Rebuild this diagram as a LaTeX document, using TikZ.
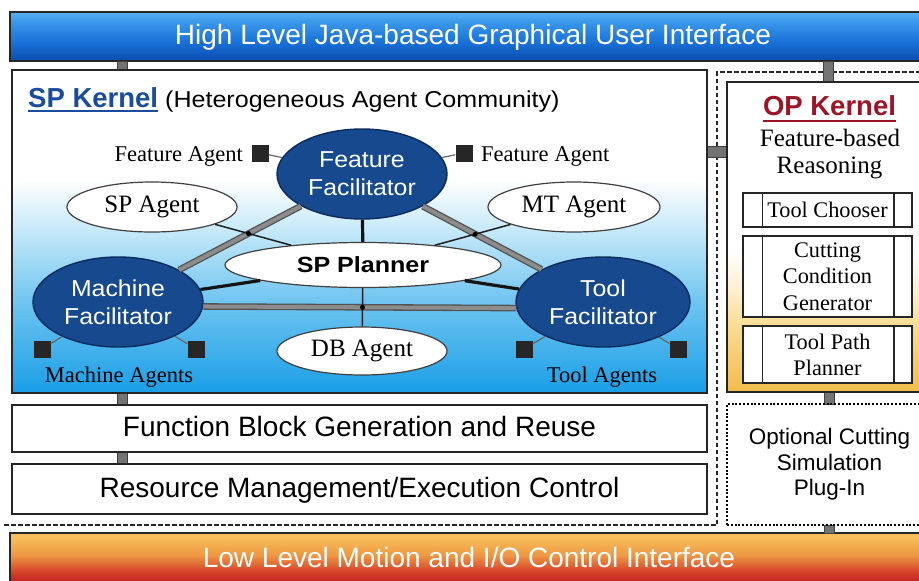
\documentclass[tikz,border=0pt]{standalone}
\usepackage{fontspec}
\usepackage{graphicx}
\setmainfont{Liberation Serif}
\newfontfamily\sansfam{Liberation Sans}
\usetikzlibrary{shapes.geometric,intersections}

\definecolor{navy}{HTML}{16498E}
\definecolor{navyD}{HTML}{0C2C5E}
\definecolor{spblue}{HTML}{1A4C9E}
\definecolor{opred}{HTML}{9C1426}
\definecolor{skyA}{HTML}{1A9EE6}
\definecolor{skyB}{HTML}{6EC4F0}
\definecolor{skyC}{HTML}{C4E8F8}
\definecolor{sunA}{HTML}{F3BC4C}
\definecolor{sunB}{HTML}{F9D98C}
\definecolor{sunC}{HTML}{FDF0D2}
\definecolor{guiA}{HTML}{0B4CB0}
\definecolor{guiB}{HTML}{1A72D8}
\definecolor{guiC}{HTML}{3A98EA}
\definecolor{guiD}{HTML}{5AB0F2}
\definecolor{lowA}{HTML}{C22222}
\definecolor{lowB}{HTML}{D84A2C}
\definecolor{lowC}{HTML}{EE9844}
\definecolor{lowD}{HTML}{F6B856}
\definecolor{lowE}{HTML}{F8C060}

% vertical shadings (the path maps onto 25bp..75bp)
\pgfdeclareverticalshading{spshade}{100bp}{color(0bp)=(skyA); color(25bp)=(skyA); color(39bp)=(skyB); color(50bp)=(skyC); color(58bp)=(white); color(100bp)=(white)}
\pgfdeclareverticalshading{opshade}{100bp}{color(0bp)=(sunA); color(25bp)=(sunA); color(35bp)=(sunB); color(41.5bp)=(sunC); color(48bp)=(white); color(100bp)=(white)}
\pgfdeclareverticalshading{guishade}{100bp}{color(0bp)=(guiA); color(25bp)=(guiA); color(45bp)=(guiB); color(65bp)=(guiC); color(75bp)=(guiD); color(100bp)=(guiD)}
\pgfdeclareverticalshading{lowshade}{100bp}{color(0bp)=(lowA); color(28.8bp)=(lowA); color(39.4bp)=(lowB); color(53.8bp)=(lowC); color(68bp)=(lowD); color(75bp)=(lowE); color(100bp)=(lowE)}

\newcommand\hstretch[2]{\scalebox{#1}[1]{#2}}

\begin{document}
\begin{tikzpicture}[x=1pt,y=-1pt,
  bar/.style={draw=black!85, line width=1.8pt, inner sep=0, outer sep=0, text=white,
    font=\sansfam\fontsize{28}{32}\selectfont, text height=20pt, text depth=4pt},
  panel/.style={draw=black!85, line width=2pt, inner sep=0, outer sep=0},
  layerbox/.style={panel, fill=white, font=\sansfam\fontsize{28}{32}\selectfont, text height=20pt, text depth=4pt},
  facil/.style={ellipse, fill=navy, draw=navyD, line width=1.4pt, text=white, inner sep=0,
    minimum width=170, minimum height=90, align=center, font=\sansfam\fontsize{23}{28}\selectfont},
  agent/.style={ellipse, fill=white, draw=black!75, line width=1.2pt, inner sep=0,
    minimum width=170, minimum height=50, font=\fontsize{25}{28}\selectfont},
  sq/.style={fill=black!85, minimum size=17, inner sep=0},
  lbl/.style={inner sep=0, font=\fontsize{22.5}{26}\selectfont},
  opbox/.style={draw=black!85, line width=1.6pt, fill=white, inner sep=0, align=center,
    minimum width=169, font=\fontsize{22.3}{26}\selectfont},
  grayconn/.style={draw=black!68, line width=1.3pt, double=black!45, double distance=4pt},
  blackconn/.style={draw=black!92, line width=3.2pt},
  thinconn/.style={draw=black!88, line width=1.5pt},
  sqconn/.style={draw=black!60, line width=1.2pt},
  stub/.style={fill=black!55, draw=black!75, line width=0.5pt}
]
\useasboundingbox (0,0) rectangle (919,581);
\clip (0,0) rectangle (919,581);

% dashed enclosure of the kernel layer
\draw[black!85, line width=1.6pt, dash pattern=on 4.5pt off 2.5pt] (4,525) -- (717,525) -- (717,72) -- (930,72);

% interface bars
\node[bar, shade, shading=guishade, minimum width=926, minimum height=49] (gui) at (473,36.5)
  {High Level Java-based Graphical User Interface};
\node[bar, shade, shading=lowshade, minimum width=918, minimum height=52] (lowif) at (469,559)
  {Low Level Motion and I/O Control Interface};

% layer stubs
\filldraw[stub] (117,61) rectangle (127,70);
\filldraw[stub] (823,61) rectangle (833,82);
\filldraw[stub] (707,146) rectangle (727,157);
\filldraw[stub] (117,393) rectangle (127,405);
\filldraw[stub] (117,452) rectangle (127,464);
\filldraw[stub] (824,392) rectangle (834,404);
\filldraw[stub] (824,525) rectangle (834,533);

% SP kernel panel and the layers below it
\node[panel, shade, shading=spshade, minimum width=695, minimum height=323] (spk) at (359.5,231.5) {};
\node[layerbox, minimum width=695, minimum height=47] (fbg) at (359.5,428.5)
  {Function Block Generation and Reuse};
\node[layerbox, minimum width=695, minimum height=50] (rmx) at (359.5,489)
  {Resource Management/Execution Control};

\node[anchor=base west, inner sep=0, text=spblue, font=\sansfam\bfseries\fontsize{27.5}{30}\selectfont]
  (sptitle) at (28,107) {SP Kernel};
\draw[spblue, line width=2.2pt] ([yshift=-4pt]sptitle.base west) -- ([yshift=-4pt]sptitle.base east);
\node[anchor=base west, inner sep=0, font=\sansfam\fontsize{23}{27}\selectfont]
  (spsub) at (165,107) {\hstretch{1.09}{(Heterogeneous Agent Community)}};

% agent community
\node[facil] (ff) at (362,174) {\hstretch{1.08}{Feature}\\\hstretch{1.08}{Facilitator}};
\node[facil] (mf) at (118,302) {\hstretch{1.08}{Machine}\\\hstretch{1.08}{Facilitator}};
\node[facil, minimum width=174] (tf) at (603,302) {\hstretch{1.08}{Tool}\\\hstretch{1.08}{Facilitator}};
\node[agent, minimum width=276, minimum height=45, font=\sansfam\bfseries\fontsize{22}{26}\selectfont]
  (spp) at (363,265) {\hstretch{1.14}{SP Planner}};
\node[agent] (spa) at (152,207) {SP Agent};
\node[agent, minimum width=172] (mta) at (574,207) {MT Agent};
\node[agent, minimum height=48] (dba) at (362,351) {DB Agent};

\node[sq] (fa1) at (260,153) {};
\node[sq] (fa2) at (464,153) {};
\node[sq] (ma1) at (42,349) {};
\node[sq] (ma2) at (196,349) {};
\node[sq] (ta1) at (524,349) {};
\node[sq] (ta2) at (678,349) {};

\node[lbl, anchor=base east] (fa1l) at (243,161) {Feature Agent};
\node[lbl, anchor=base west] (fa2l) at (481,161) {Feature Agent};
\node[lbl, anchor=base] (mal) at (119,382) {Machine Agents};
\node[lbl, anchor=base] (tal) at (602,382) {Tool Agents};

% facilitator backbone
\draw[grayconn, name path=gFM] (ff) -- (mf);
\draw[grayconn, name path=gFT] (ff) -- (tf);
\draw[grayconn, name path=gMT] (mf.-3.5) -- (tf.-176.5);
% planner links
\draw[blackconn] (ff) -- (spp);
\draw[blackconn] (mf) -- (spp);
\draw[blackconn] (tf) -- (spp);
\draw[thinconn, name path=vDB] (spp) -- (dba);
\draw[thinconn, name path=tSA] (spa) -- (spp);
\draw[thinconn, name path=tMT] (mta) -- (spp);
% agent squares
\draw[sqconn] (fa1) -- (ff);
\draw[sqconn] (fa2) -- (ff);
\draw[sqconn] (ma1) -- (mf);
\draw[sqconn] (ma2) -- (mf);
\draw[sqconn] (ta1) -- (tf);
\draw[sqconn] (ta2) -- (tf);
% junction dots
\fill[black, name intersections={of=gFM and tSA}] (intersection-1) circle[radius=2.5pt];
\fill[black, name intersections={of=gFT and tMT}] (intersection-1) circle[radius=2.5pt];
\fill[black, name intersections={of=gMT and vDB}] (intersection-1) circle[radius=2.5pt];

% OP kernel
\node[panel, shade, shading=opshade, minimum width=200, minimum height=310] (opk) at (827,237) {};
\node[anchor=base, inner sep=0, text=opred, font=\sansfam\bfseries\fontsize{27.5}{30}\selectfont]
  (optitle) at (829.5,115) {OP Kernel};
\draw[opred, line width=2.2pt] ([yshift=-6pt]optitle.base west) -- ([yshift=-6pt]optitle.base east);
\node[anchor=base, inner sep=0, font=\fontsize{25}{28}\selectfont] (fbr1) at (830,146) {Feature-based};
\node[anchor=base, inner sep=0, font=\fontsize{25}{28}\selectfont] (fbr2) at (829.5,173) {Reasoning};

\node[opbox, minimum height=34] (tch) at (827.5,210) {Tool Chooser};
\node[opbox, minimum height=81, font=\fontsize{22.3}{26.5}\selectfont] (ccg) at (827.5,276.5) {Cutting\\Condition\\Generator};
\node[opbox, minimum height=57] (tpp) at (827.5,354.5) {Tool Path\\Planner};
\foreach \b in {tch,ccg,tpp}{
  \draw[black!85, line width=1.4pt] ([xshift=20pt]\b.north west) -- ([xshift=20pt]\b.south west);
  \draw[black!85, line width=1.4pt] ([xshift=-19pt]\b.north east) -- ([xshift=-19pt]\b.south east);
}

% optional plug-in
\node[draw=black, line width=2.4pt, dash pattern=on 2pt off 1.8pt, minimum width=205, minimum height=121,
  inner sep=0, align=center, font=\sansfam\fontsize{22.5}{25.5}\selectfont] (ocs) at (829.5,464.5)
  {Optional Cutting\\Simulation\\Plug-In};
\end{tikzpicture}
\end{document}
